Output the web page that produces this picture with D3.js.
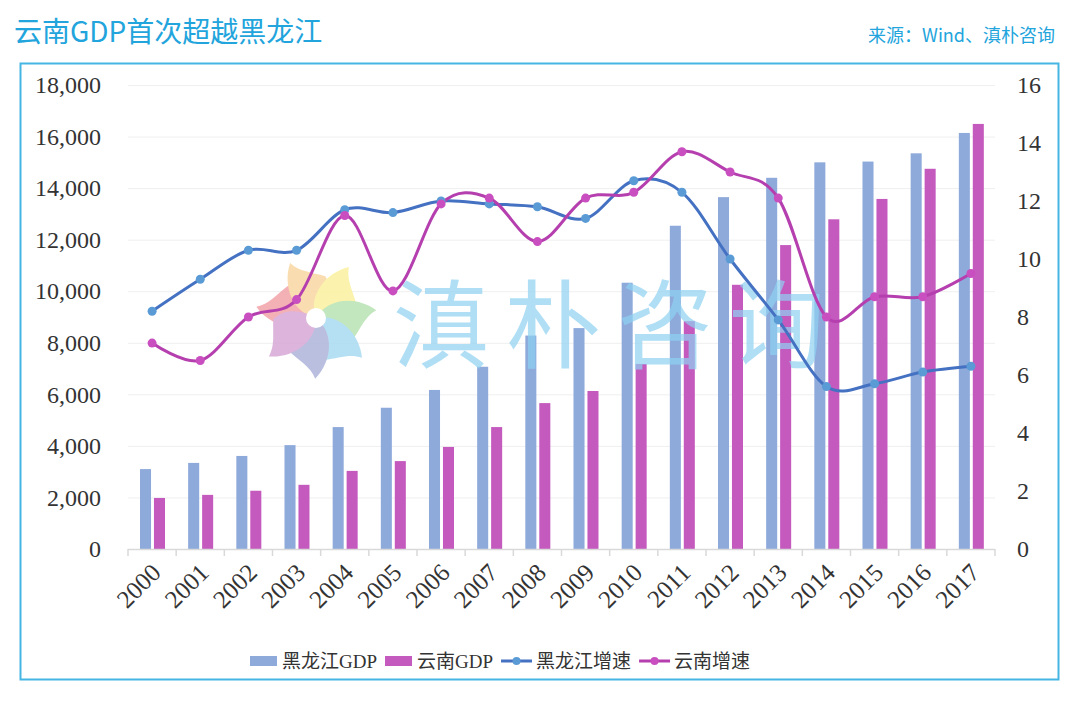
<!DOCTYPE html>
<html>
<head>
<meta charset="utf-8">
<script src="https://cdn.jsdelivr.net/npm/d3@7"></script>
<style>
  html, body { margin: 0; padding: 0; background: #ffffff; }
  svg { display: block; }
</style>
</head>
<body>
<svg id="chart" width="1080" height="704"></svg>
<script>
// ---- data ----
const years = ['2000','2001','2002','2003','2004','2005','2006','2007','2008','2009','2010','2011','2012','2013','2014','2015','2016','2017'];
const hljGDP = [3100,3340,3610,4030,4730,5480,6170,7070,8280,8570,10330,12540,13650,14400,15000,15030,15350,16140];
const ynGDP  = [1980,2100,2260,2490,3030,3410,3960,4730,5660,6130,7180,8840,10250,11790,12790,13580,14750,16490];
const hljGrowth = [8.2,9.3,10.3,10.3,11.7,11.6,12.0,11.9,11.8,11.4,12.7,12.3,10.0,7.9,5.6,5.7,6.1,6.3];
const ynGrowth  = [7.1,6.5,8.0,8.6,11.5,8.9,11.9,12.1,10.6,12.1,12.3,13.7,13.0,12.1,8.0,8.7,8.7,9.5];
const leftTicks  = [0,2000,4000,6000,8000,10000,12000,14000,16000,18000];
const rightTicks = [0,2,4,6,8,10,12,14,16];
const seriesNames = ['黑龙江GDP','云南GDP','黑龙江增速','云南增速'];
const titleText = '云南GDP首次超越黑龙江';
const sourceText = '来源：Wind、滇朴咨询';
const watermarkText = '滇朴咨询';

// ---- style ----
const C = {
  hljBar: '#8eaadb', ynBar: '#c55abe',
  hljLine: '#4471c2', hljDot: '#5a9bd6',
  ynLine: '#b53fae', ynDot: '#c94fc1',
  title: '#22a4dc', frame: '#45b5e3', text: '#333333'
};
const serif = '"Liberation Serif", "Times New Roman", "Noto Sans CJK SC", serif';
const cjk = '"Noto Sans CJK SC", "Noto Sans", sans-serif';

const svg = d3.select('#chart');
const plot = {left: 128, right: 995, top: 85, bottom: 549};

// frame
svg.append('rect').attr('x', 20.5).attr('y', 63.5).attr('width', 1038).attr('height', 616)
  .attr('fill', 'none').attr('stroke', C.frame).attr('stroke-width', 2);

// title + source
svg.append('text').attr('x', 14).attr('y', 42).attr('font-family', cjk).attr('font-size', 28)
  .attr('fill', C.title).text(titleText);
svg.append('text').attr('x', 1055).attr('y', 42).attr('text-anchor', 'end').attr('font-family', cjk)
  .attr('font-size', 18).attr('fill', C.title).text(sourceText);

// scales
const x = d3.scaleBand().domain(years).range([plot.left, plot.right]).paddingInner(0).paddingOuter(0);
const bw = x.bandwidth();
const x1 = d3.scaleBand().domain(['hlj','yn']).range([bw*0.249, bw*0.768]).paddingInner(0.21);
const yL = d3.scaleLinear().domain([0, 18000]).range([plot.bottom, plot.top]);
const yR = d3.scaleLinear().domain([0, 16]).range([plot.bottom, plot.top]);

// gridlines
const grid = svg.append('g').attr('transform', `translate(${plot.left},0)`)
  .call(d3.axisLeft(yL).tickValues(leftTicks.slice(1)).tickSize(-(plot.right - plot.left)).tickFormat(''));
grid.select('.domain').remove();
grid.selectAll('line').attr('stroke', '#efefef').attr('stroke-width', 1);

// left axis labels
const axL = svg.append('g').attr('transform', `translate(${plot.left},0)`)
  .call(d3.axisLeft(yL).tickValues(leftTicks).tickSize(0).tickPadding(27).tickFormat(d3.format(',')));
axL.select('.domain').remove();
axL.selectAll('text').attr('font-family', serif).attr('font-size', 24).attr('fill', C.text);

// right axis labels
const axR = svg.append('g').attr('transform', `translate(${plot.right},0)`)
  .call(d3.axisRight(yR).tickValues(rightTicks).tickSize(0).tickPadding(22).tickFormat(d3.format('d')));
axR.select('.domain').remove();
axR.selectAll('text').attr('font-family', serif).attr('font-size', 24).attr('fill', C.text);

// bars
const bars = svg.append('g');
bars.selectAll('rect.hlj').data(years).join('rect').attr('class','hlj')
  .attr('x', (d) => x(d) + x1('hlj')).attr('width', x1.bandwidth())
  .attr('y', (d,i) => yL(hljGDP[i])).attr('height', (d,i) => yL(0) - yL(hljGDP[i]))
  .attr('fill', C.hljBar);
bars.selectAll('rect.yn').data(years).join('rect').attr('class','yn')
  .attr('x', (d) => x(d) + x1('yn')).attr('width', x1.bandwidth())
  .attr('y', (d,i) => yL(ynGDP[i])).attr('height', (d,i) => yL(0) - yL(ynGDP[i]))
  .attr('fill', C.ynBar);

// bottom axis
const axB = svg.append('g').attr('transform', `translate(0,${plot.bottom})`);
axB.append('line').attr('x1', plot.left).attr('x2', plot.right).attr('y1', 0.5).attr('y2', 0.5)
  .attr('stroke', '#d9d9d9').attr('stroke-width', 1.5);
const boundaries = years.map(d => x(d)).concat([plot.right]);
axB.selectAll('line.tk').data(boundaries).join('line').attr('class','tk')
  .attr('x1', d => d).attr('x2', d => d).attr('y1', 0).attr('y2', 7)
  .attr('stroke', '#d9d9d9').attr('stroke-width', 1.5);
axB.selectAll('text').data(years).join('text')
  .attr('transform', d => `translate(${x(d) + bw/2 + 4},${19}) rotate(-45)`)
  .attr('text-anchor', 'end').attr('dy', '0.35em')
  .attr('font-family', serif).attr('font-size', 25).attr('fill', C.text)
  .text(d => d);

// watermark
const wm = svg.append('g');
const flower = wm.append('g').attr('transform', 'translate(316,318)').attr('opacity', 0.85);
const petalColors = ['#f3a4a9','#f9d8a4','#fbf29f','#b8e2b3','#a9dbf2','#aeb5da','#d6a8d6'];
const petalAngles = [-152,-98,-40,10,58,108,158];
const petalPath = 'M 0 0 C 8 -22, 36 -29, 58 -18 C 48 -10, 46 2, 40 15 C 27 21, 10 14, 0 0 Z';
flower.selectAll('path').data(petalColors).join('path')
  .attr('d', petalPath)
  .attr('transform', (d,i) => `rotate(${petalAngles[i]})`)
  .attr('fill', d => d);
flower.append('circle').attr('r', 10).attr('fill', '#ffffff');
wm.append('text').attr('x', 393).attr('y', 360)
  .attr('font-family', cjk).attr('font-weight', 400).attr('font-size', 96)
  .attr('letter-spacing', 16)
  .attr('fill', '#8fd2f2').attr('opacity', 0.7).text(watermarkText);

// lines
const cx = (d) => x(d) + bw/2;
const lineGen = (vals) => d3.line().x((d) => cx(d)).y((d,i) => yR(vals[i])).curve(d3.curveCatmullRom.alpha(0));
svg.append('path').datum(years).attr('d', lineGen(hljGrowth)).attr('fill','none')
  .attr('stroke', C.hljLine).attr('stroke-width', 3);
svg.append('path').datum(years).attr('d', lineGen(ynGrowth)).attr('fill','none')
  .attr('stroke', C.ynLine).attr('stroke-width', 3);
svg.append('g').selectAll('circle').data(years).join('circle')
  .attr('cx', cx).attr('cy', (d,i) => yR(hljGrowth[i])).attr('r', 4.5).attr('fill', C.hljDot);
svg.append('g').selectAll('circle').data(years).join('circle')
  .attr('cx', cx).attr('cy', (d,i) => yR(ynGrowth[i])).attr('r', 4.5).attr('fill', C.ynDot);

// legend
const lg = svg.append('g').attr('transform', 'translate(250,661)');
let lx = 0;
seriesNames.forEach((name, i) => {
  const g = lg.append('g').attr('transform', `translate(${lx},0)`);
  let w;
  if (i < 2) {
    g.append('rect').attr('x', 0).attr('y', -5).attr('width', 27).attr('height', 10)
      .attr('fill', i === 0 ? C.hljBar : C.ynBar);
    w = 32;
  } else {
    g.append('line').attr('x1', 0).attr('x2', 31).attr('y1', 0).attr('y2', 0)
      .attr('stroke', i === 2 ? C.hljLine : C.ynLine).attr('stroke-width', 3);
    g.append('circle').attr('cx', 15.5).attr('cy', 0).attr('r', 4).attr('fill', i === 2 ? C.hljDot : C.ynDot);
    w = 35;
  }
  const t = g.append('text').attr('x', w).attr('y', 0).attr('dy', '0.36em')
    .attr('font-family', serif).attr('font-size', 19).attr('fill', C.text).text(name);
  lx += w + t.node().getComputedTextLength() + 8;
});
</script>
</body>
</html>
